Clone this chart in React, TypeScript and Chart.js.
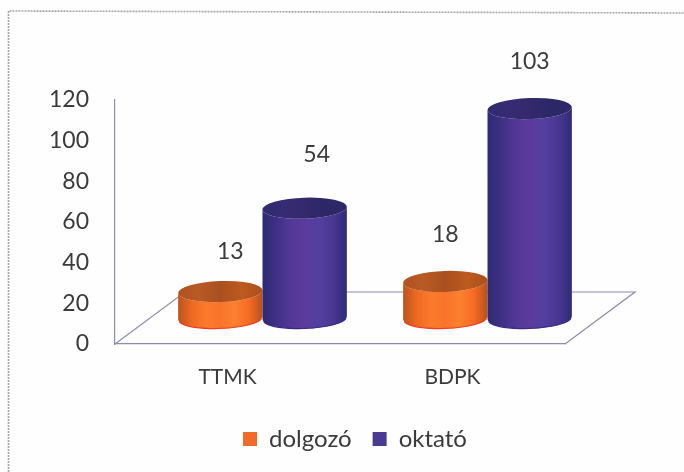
import React, { useEffect, useRef } from "react";
import { Chart, registerables } from "chart.js";

Chart.register(...registerables);

const categories = ["TTMK", "BDPK"];
const dolgozo = [13, 18];
const oktato = [54, 103];
const yTicks = [0, 20, 40, 60, 80, 100, 120];

const FONT = "Lato, Carlito, 'Open Sans', sans-serif";
const DEPTH_X = 70;
const DEPTH_Y = -52;
const AXIS_COLOR = "#8d8caf";
const TEXT_COLOR = "#3b3b3d";

const palettes = [
  {
    top: ["#b2521f", "#b85a26", "#a94f20", "#bd5a1f", "#ad4f1c"],
    side: ["#b9541e", "#ef6a22", "#fb7a2c", "#f9732a", "#fd8030", "#f76c24", "#b8501c"],
    bottom: "#f23c20",
  },
  {
    top: ["#2f2a6e", "#372c74", "#33296c", "#2c2767", "#2d2869"],
    side: ["#2d2a72", "#3f3085", "#523896", "#5c3a9d", "#5240a0", "#4a3692", "#302a78"],
    bottom: "#3a2a88",
  },
];

const labelNudges = [
  [{ x: 10, y: -40 }, { x: 0, y: -47 }],
  [{ x: 12, y: -54 }, { x: 0, y: -47 }],
];

function linear(ctx: CanvasRenderingContext2D, x0: number, x1: number, stops: string[]) {
  const g = ctx.createLinearGradient(x0, 0, x1, 0);
  stops.forEach((c, i) => g.addColorStop(i / (stops.length - 1), c));
  return g;
}

function drawCylinder(
  ctx: CanvasRenderingContext2D,
  cx: number,
  topY: number,
  baseY: number,
  halfW: number,
  p: (typeof palettes)[number]
) {
  const ry = 10.5;
  const tilt = -0.035;
  ctx.save();
  ctx.beginPath();
  ctx.ellipse(cx, baseY, halfW, ry, tilt, 0, Math.PI);
  ctx.lineTo(cx - halfW, topY);
  ctx.ellipse(cx, topY, halfW, ry, tilt, Math.PI, 0, true);
  ctx.closePath();
  ctx.fillStyle = linear(ctx, cx - halfW, cx + halfW, p.side);
  ctx.fill();
  ctx.beginPath();
  ctx.ellipse(cx, topY, halfW, ry, tilt, 0, Math.PI * 2);
  ctx.fillStyle = linear(ctx, cx - halfW, cx + halfW, p.top);
  ctx.fill();
  ctx.beginPath();
  ctx.ellipse(cx, baseY, halfW, ry, tilt, 0.25, Math.PI - 0.25);
  ctx.strokeStyle = p.bottom;
  ctx.lineWidth = 1.2;
  ctx.stroke();
  ctx.restore();
}

const scenePlugin = {
  id: "scene3d",
  afterLayout(chart: any) {
    const lg = chart.legend;
    if (lg) {
      const w = lg.right - lg.left;
      lg.left = 355 - w / 2;
      lg.right = lg.left + w;
      lg.top = 406;
    }
  },
  beforeDraw(chart: any) {
    const { ctx } = chart;
    ctx.save();
    ctx.fillStyle = "#fefefe";
    ctx.fillRect(0, 0, chart.width, chart.height);
    ctx.strokeStyle = "#a5a5a5";
    ctx.lineWidth = 1.6;
    ctx.setLineDash([2, 1]);
    ctx.beginPath();
    ctx.moveTo(8.5, 472);
    ctx.lineTo(8.5, 11);
    ctx.lineTo(684, 13);
    ctx.stroke();
    ctx.restore();
  },
  beforeDatasetsDraw(chart: any) {
    const { ctx, chartArea: a } = chart;
    const floorY = chart.scales.y.getPixelForValue(0);
    ctx.save();
    ctx.strokeStyle = AXIS_COLOR;
    ctx.lineWidth = 1.2;
    ctx.beginPath();
    ctx.moveTo(a.left, floorY);
    ctx.lineTo(a.left + DEPTH_X, floorY + DEPTH_Y);
    ctx.lineTo(a.right + DEPTH_X, floorY + DEPTH_Y);
    ctx.lineTo(a.right, floorY);
    ctx.stroke();
    ctx.restore();
  },
  beforeDatasetDraw() {
    return false;
  },
  afterDatasetsDraw(chart: any) {
    const { ctx } = chart;
    categories.forEach((_, i) => {
      chart.data.datasets.forEach((_d: any, di: number) => {
        const el = chart.getDatasetMeta(di).data[i];
        drawCylinder(
          ctx,
          el.x + DEPTH_X / 2,
          el.y + DEPTH_Y / 2,
          el.base + DEPTH_Y / 2,
          el.width / 2,
          palettes[di]
        );
      });
    });
    ctx.save();
    ctx.fillStyle = TEXT_COLOR;
    ctx.font = `23px ${FONT}`;
    ctx.textAlign = "center";
    ctx.textBaseline = "middle";
    chart.data.datasets.forEach((d: any, di: number) => {
      chart.getDatasetMeta(di).data.forEach((el: any, i: number) => {
        const n = labelNudges[di][i];
        ctx.fillText(String(d.data[i]), el.x + DEPTH_X / 2 + n.x, el.y + DEPTH_Y / 2 + n.y);
      });
    });
    ctx.restore();
  },
};

export default function App() {
  const ref = useRef<HTMLCanvasElement>(null);
  useEffect(() => {
    const chart = new Chart(ref.current!, {
      type: "bar",
      data: {
        labels: categories,
        datasets: [
          { label: "dolgozó", data: dolgozo, backgroundColor: "#f26a2a", categoryPercentage: 0.75, barPercentage: 1 },
          { label: "oktató", data: oktato, backgroundColor: "#4b3a94", categoryPercentage: 0.75, barPercentage: 1 },
        ],
      },
      options: {
        responsive: false,
        animation: false,
        layout: { padding: { left: 20, right: 119, top: 100, bottom: 21 } },
        plugins: {
          tooltip: { enabled: false },
          legend: {
            position: "bottom",
            labels: {
              usePointStyle: true,
              pointStyle: "rect",
              boxWidth: 14,
              boxHeight: 14,
              padding: 21,
              color: TEXT_COLOR,
              font: { family: FONT, size: 24 },
            },
          },
        },
        scales: {
          x: {
            afterFit(s: any) {
              s.height = 52;
            },
            grid: { display: false, drawTicks: false },
            border: { color: AXIS_COLOR, width: 1.2 },
            ticks: { color: TEXT_COLOR, font: { family: FONT, size: 21 }, padding: 21 },
          },
          y: {
            min: 0,
            max: 120,
            afterBuildTicks(s: any) {
              s.ticks = yTicks.map((value) => ({ value }));
            },
            afterFit(s: any) {
              s.width = 95;
            },
            grid: { display: false, drawTicks: false },
            border: { color: AXIS_COLOR, width: 1.2 },
            ticks: { color: TEXT_COLOR, font: { family: FONT, size: 23 }, padding: 26 },
          },
        },
      },
      plugins: [scenePlugin],
    });
    return () => chart.destroy();
  }, []);
  return (
    <canvas
      ref={ref}
      width={684}
      height={472}
      style={{ position: "fixed", left: 0, top: 0, display: "block" }}
    />
  );
}
